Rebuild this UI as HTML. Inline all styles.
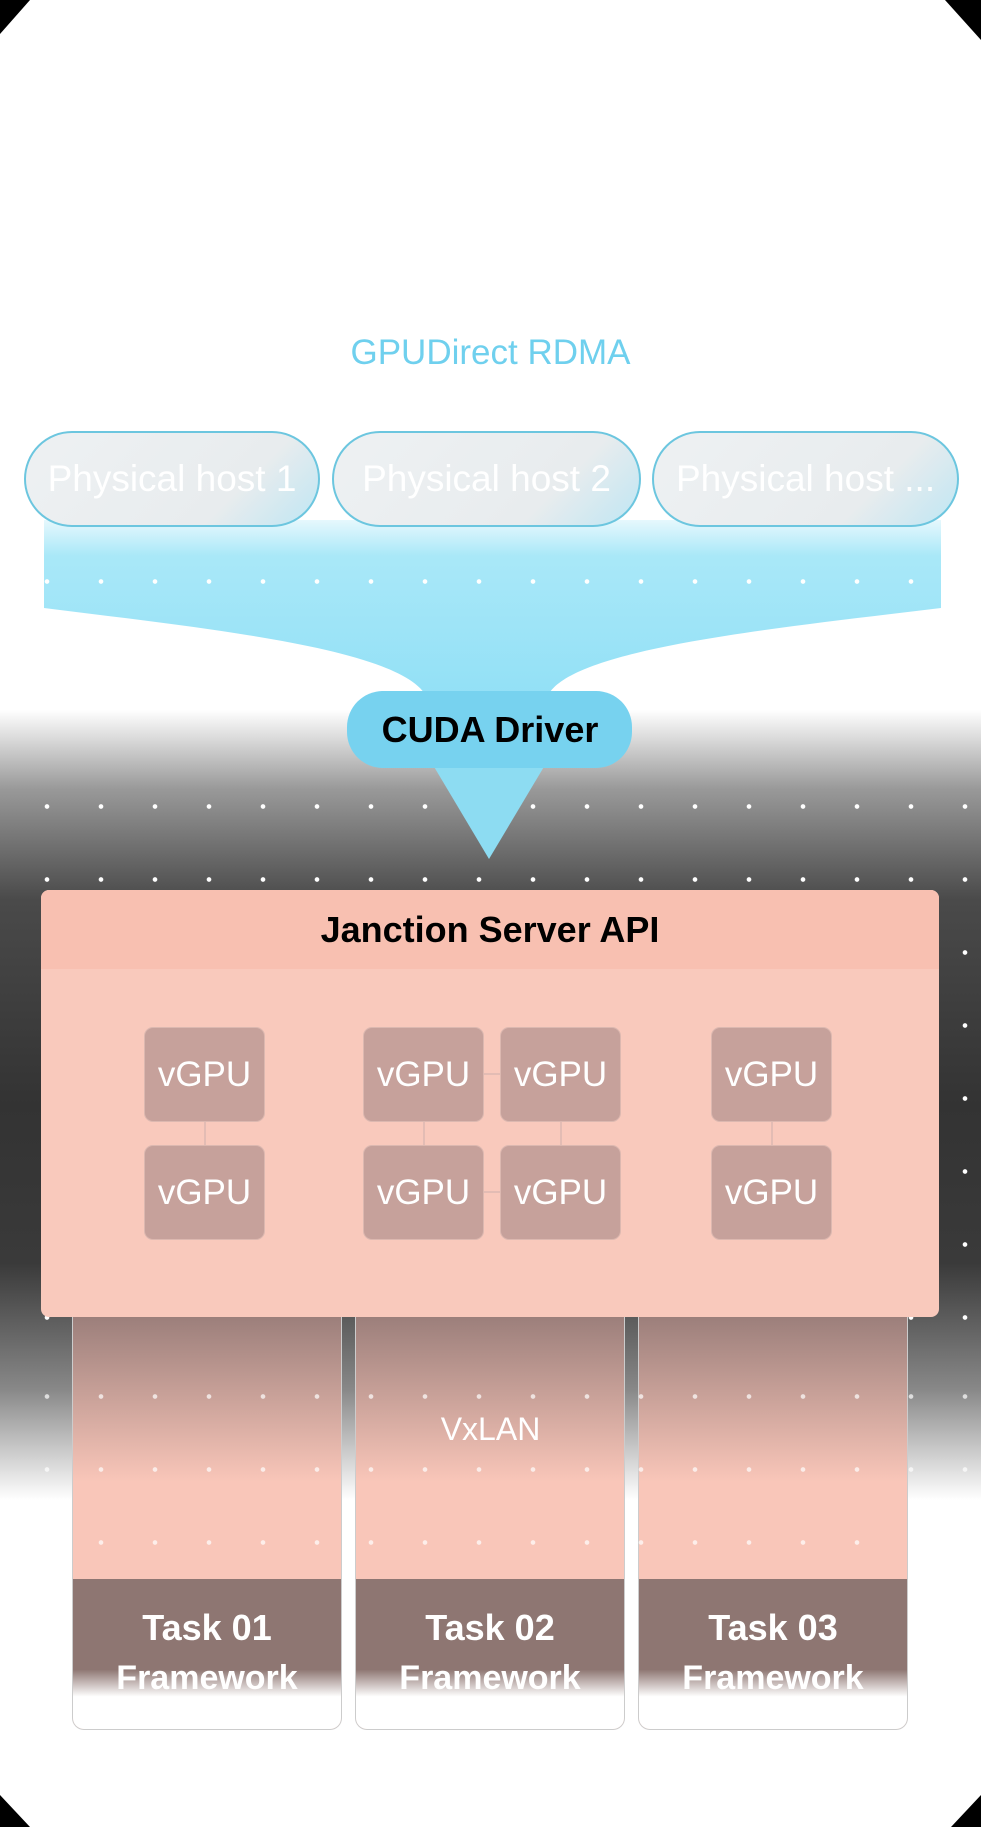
<!DOCTYPE html>
<html><head><meta charset="utf-8"><style>
*{margin:0;padding:0;box-sizing:border-box}
body{width:981px;height:1827px;position:relative;background:#fff;overflow:hidden;font-family:"Liberation Sans",sans-serif}
.a{position:absolute}
.shadow{left:0;top:710px;width:981px;height:790px;background:linear-gradient(#fff 0%,#999 10%,#4a4a4a 24%,#333 50%,#3a3a3a 70%,#888 86%,#fff 100%)}
.dots{background-image:radial-gradient(circle,#fff 2px,transparent 2.6px);background-size:54px 73px}
.pill{height:96px;border-radius:48px;border:2px solid #6cc6df;background:linear-gradient(135deg,#eef1f3 0%,#e8ecee 70%,#bfe6f3 100%);color:#fff;font-size:37px;display:flex;align-items:center;justify-content:center;white-space:nowrap;overflow:hidden;top:431px}
.v{width:121px;height:95px;border-radius:9px;background:#c6a19b;border:1px solid #dcb8b0;color:#fff;font-size:35px;display:flex;align-items:center;justify-content:center}
.col{top:1317px;width:270px;height:413px;border-radius:0 0 12px 12px;background:linear-gradient(#9c7f7b 0%,#f9c6b9 40%,#f9c6b9 100%);border-left:1px solid #ccc;border-right:1px solid #ccc;border-bottom:1px solid #ccc;overflow:hidden}
.task{position:absolute;left:0;top:262px;width:100%;height:151px;background:linear-gradient(#8e7672 0%,#8e7672 60%,#fff 78%,#fff 100%);color:#fff;text-align:center}
.task b{display:block;font-size:36px;margin-top:28px}
.task span{display:block;font-size:34px;font-weight:bold;margin-top:10px;color:#fff}
</style></head><body>
<div class="a shadow"></div>
<div class="a dots" style="left:20px;top:770px;width:950px;height:600px"></div>

<div class="a" style="left:0;top:333px;width:981px;text-align:center;color:#6fd0ee;font-size:35px">GPUDirect RDMA</div>

<svg class="a" style="left:0;top:0" width="981" height="900">
<defs><linearGradient id="g" x1="0" y1="0" x2="0" y2="1"><stop offset="0" stop-color="#e6f8fd"/><stop offset="0.2" stop-color="#a9e8f8"/><stop offset="1" stop-color="#92e0f6"/></linearGradient></defs>
<path d="M44 520 H941 V608 C760 630 560 650 546 700 H428 C410 650 220 630 44 608 Z" fill="url(#g)"/>
<path d="M430 760 L548 760 L489 859 Z" fill="#8ddcf2"/>
<rect x="347" y="691" width="285" height="77" rx="36" fill="#77d2ef"/>
<text x="490" y="742" text-anchor="middle" font-family="Liberation Sans" font-weight="bold" font-size="36" fill="#000">CUDA Driver</text>
</svg>
<div class="a dots" style="left:20px;top:545px;width:950px;height:70px"></div>

<div class="a pill" style="left:24px;width:296px">Physical host 1</div>
<div class="a pill" style="left:332px;width:309px">Physical host 2</div>
<div class="a pill" style="left:652px;width:307px;justify-content:flex-start;padding-left:22px">Physical host ...</div>

<div class="a col" style="left:72px"><div class="task"><b>Task 01</b><span>Framework</span></div></div>
<div class="a col" style="left:355px"><div class="task"><b>Task 02</b><span>Framework</span></div></div>
<div class="a col" style="left:638px"><div class="task"><b>Task 03</b><span>Framework</span></div></div>
<div class="a dots" style="left:20px;top:1360px;width:950px;height:220px;opacity:.7"></div>
<div class="a" style="left:0;top:1411px;width:981px;text-align:center;color:#fff;font-size:32px">VxLAN</div>

<div class="a" style="left:41px;top:890px;width:898px;height:427px;border-radius:8px;background:#f9c9bc;overflow:hidden">
<div style="height:79px;background:#f8c0b1;text-align:center;font-weight:bold;font-size:36px;line-height:79px;color:#000">Janction Server API</div>
</div>
<div class="a" style="left:204px;top:1121px;width:2px;height:24px;background:#e3bcb4"></div>
<div class="a" style="left:423px;top:1121px;width:2px;height:24px;background:#e3bcb4"></div>
<div class="a" style="left:560px;top:1121px;width:2px;height:24px;background:#e3bcb4"></div>
<div class="a" style="left:771px;top:1121px;width:2px;height:24px;background:#e3bcb4"></div>
<div class="a" style="left:483px;top:1073px;width:17px;height:2px;background:#e3bcb4"></div>
<div class="a" style="left:483px;top:1191px;width:17px;height:2px;background:#e3bcb4"></div>
<div class="a v" style="left:144px;top:1027px">vGPU</div>
<div class="a v" style="left:144px;top:1145px">vGPU</div>
<div class="a v" style="left:363px;top:1027px">vGPU</div>
<div class="a v" style="left:500px;top:1027px">vGPU</div>
<div class="a v" style="left:363px;top:1145px">vGPU</div>
<div class="a v" style="left:500px;top:1145px">vGPU</div>
<div class="a v" style="left:711px;top:1027px">vGPU</div>
<div class="a v" style="left:711px;top:1145px">vGPU</div>

<svg class="a" style="left:0;top:0" width="981" height="1827">
<path d="M0 0 H30 L0 34 Z" fill="#000"/>
<path d="M981 0 H945 L981 40 Z" fill="#000"/>
<path d="M0 1827 V1795 L30 1827 Z" fill="#000"/>
<path d="M981 1827 V1795 L951 1827 Z" fill="#000"/>
</svg>
</body></html>
